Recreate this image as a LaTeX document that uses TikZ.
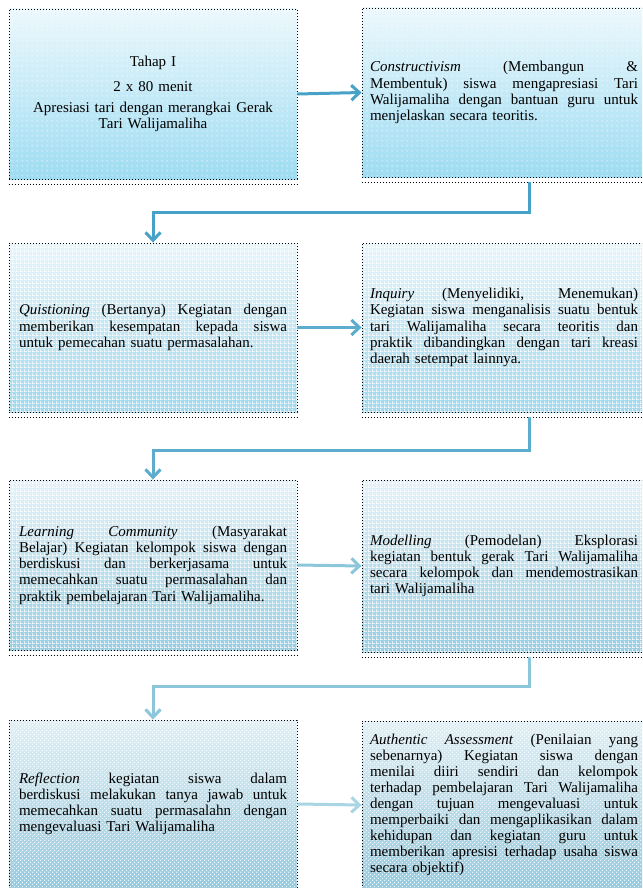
\documentclass[tikz,border=0pt]{standalone}
\usepackage{fontspec}
\setmainfont{Liberation Serif}
\usetikzlibrary{arrows.meta,patterns,calc}
\pgfdeclarepatternformonly{wdots}{\pgfpointorigin}{\pgfqpoint{5pt}{5pt}}{\pgfqpoint{5pt}{5pt}}{\pgfpathcircle{\pgfqpoint{2.5pt}{2.5pt}}{0.75pt}\pgfusepath{fill}}
\pgfdeclarepatternformonly{wgrid}{\pgfpointorigin}{\pgfqpoint{4pt}{4pt}}{\pgfqpoint{4pt}{4pt}}{\pgfpathrectangle{\pgfpointorigin}{\pgfqpoint{4pt}{0.9pt}}\pgfpathrectangle{\pgfpointorigin}{\pgfqpoint{0.9pt}{4pt}}\pgfusepath{fill}}
\pgfdeclarepatternformonly{wcheck}{\pgfpointorigin}{\pgfqpoint{4pt}{4pt}}{\pgfqpoint{4pt}{4pt}}{\pgfpathcircle{\pgfqpoint{1pt}{1pt}}{0.8pt}\pgfpathcircle{\pgfqpoint{3pt}{3pt}}{0.8pt}\pgfusepath{fill}}
\newcommand{\jl}[1]{{\spaceskip=0.25em plus 5em minus 0.05em\xspaceskip=\spaceskip\makebox[268pt][s]{#1}}}
\definecolor{cA}{RGB}{72,162,200}
\definecolor{cB}{RGB}{92,172,206}
\definecolor{cC}{RGB}{140,198,218}
\definecolor{cD}{RGB}{170,213,228}
\begin{document}
\begin{tikzpicture}[x=1pt,y=-1pt,
  box/.style={rectangle, draw=black, line width=0.9pt, dash pattern=on 0.9pt off 2.1pt,
    text width=268pt, inner xsep=10pt, inner ysep=0pt, align=left, anchor=center,
    font=\fontsize{15}{16.2}\selectfont},
  rbox/.style={box, inner xsep=8pt},
  shadeA/.style={preaction={shade, top color={rgb,255:red,236;green,248;blue,252}, bottom color={rgb,255:red,158;green,220;blue,242}}, pattern=wdots, pattern color=white},
  shadeB/.style={preaction={shade, top color={rgb,255:red,232;green,245;blue,250}, bottom color={rgb,255:red,160;green,216;blue,236}}, pattern=wgrid, pattern color=white},
  shadeC/.style={preaction={shade, top color={rgb,255:red,228;green,242;blue,248}, bottom color={rgb,255:red,152;green,206;blue,226}}, pattern=wgrid, pattern color=white},
  shadeD/.style={preaction={shade, top color={rgb,255:red,225;green,240;blue,246}, bottom color={rgb,255:red,150;green,202;blue,222}}, pattern=wcheck, pattern color=white},
  shadowline/.style={draw=black, line width=0.9pt, dash pattern=on 0.9pt off 2.1pt},
  conn/.style={line width=3pt, -{Straight Barb[length=8pt,width=15pt,line width=3pt]}}
]
\clip (0,0) rectangle (642,888);

\node[box, shadeA, minimum height=170pt, align=center] (b1) at (153,94)
  {Tahap I\\[9pt]2 x 80 menit\\[5pt]Apresiasi tari dengan merangkai Gerak\\Tari Walijamaliha};
\node[rbox, shadeA, minimum height=169pt] (b2) at (504,92.5)
  {\jl{\textit{Constructivism} (Membangun \&}\\
   \jl{Membentuk) siswa mengapresiasi Tari}\\
   \jl{Walijamaliha dengan bantuan guru untuk}\\
   menjelaskan secara teoritis.};

\node[box, shadeB, minimum height=169pt] (b3) at (153,327.5)
  {\jl{\textit{Quistioning} (Bertanya) Kegiatan dengan}\\
   \jl{memberikan kesempatan kepada siswa}\\
   untuk pemecahan suatu permasalahan.};
\node[rbox, shadeB, minimum height=169pt] (b4) at (504,327.5)
  {\jl{\textit{Inquiry} (Menyelidiki, Menemukan)}\\
   \jl{Kegiatan siswa menganalisis suatu bentuk}\\
   \jl{tari Walijamaliha secara teoritis dan}\\
   \jl{praktik dibandingkan dengan tari kreasi}\\
   daerah setempat lainnya.};

\node[box, shadeC, minimum height=170pt] (b5) at (153,565)
  {\jl{\textit{Learning Community} (Masyarakat}\\
   \jl{Belajar) Kegiatan kelompok siswa dengan}\\
   \jl{berdiskusi dan berkerjasama untuk}\\
   \jl{memecahkan suatu permasalahan dan}\\
   praktik pembelajaran Tari Walijamaliha.};
\node[rbox, shadeC, minimum height=172pt] (b6) at (504,566)
  {\jl{\textit{Modelling} (Pemodelan) Eksplorasi}\\
   \jl{kegiatan bentuk gerak Tari Walijamaliha}\\
   \jl{secara kelompok dan mendemostrasikan}\\
   tari Walijamaliha};

\node[box, shadeD, minimum height=168pt] (b7) at (153,804)
  {\jl{\textit{Reflection} kegiatan siswa dalam}\\
   \jl{berdiskusi melakukan tanya jawab untuk}\\
   \jl{memecahkan suatu permasalahn dengan}\\
   mengevaluasi Tari Walijamaliha};
\node[rbox, shadeD, minimum height=168pt, font=\fontsize{15}{16}\selectfont] (b8) at (504,805)
  {\jl{\textit{Authentic Assessment} (Penilaian yang}\\
   \jl{sebenarnya) Kegiatan siswa dengan}\\
   \jl{menilai diiri sendiri dan kelompok}\\
   \jl{terhadap pembelajaran Tari Walijamaliha}\\
   \jl{dengan tujuan mengevaluasi untuk}\\
   \jl{memperbaiki dan mengaplikasikan dalam}\\
   \jl{kehidupan dan kegiatan guru untuk}\\
   \jl{memberikan apresisi terhadap usaha siswa}\\
   secara objektif)};

\foreach \b in {b1,b2,b3,b4,b5,b6}
  \draw[shadowline] ([yshift=-5pt]\b.south west) -- ([yshift=-5pt]\b.south east);

\draw[conn, draw=cA] (b1.east) -- (b2.west);
\draw[conn, draw=cA] ([xshift=25pt,yshift=-5pt]b2.south) -- ++(0,30) -| (b3.north);
\draw[conn, draw=cB] (b3.east) -- (b4.west);
\draw[conn, draw=cB] ([xshift=25pt,yshift=-5pt]b4.south) -- ++(0,33) -| (b5.north);
\draw[conn, draw=cC] (b5.east) -- (b6.west);
\draw[conn, draw=cC] ([xshift=25pt,yshift=-5pt]b6.south) -- ++(0,29) -| (b7.north);
\draw[conn, draw=cD] (b7.east) -- (b8.west);
\end{tikzpicture}
\end{document}
